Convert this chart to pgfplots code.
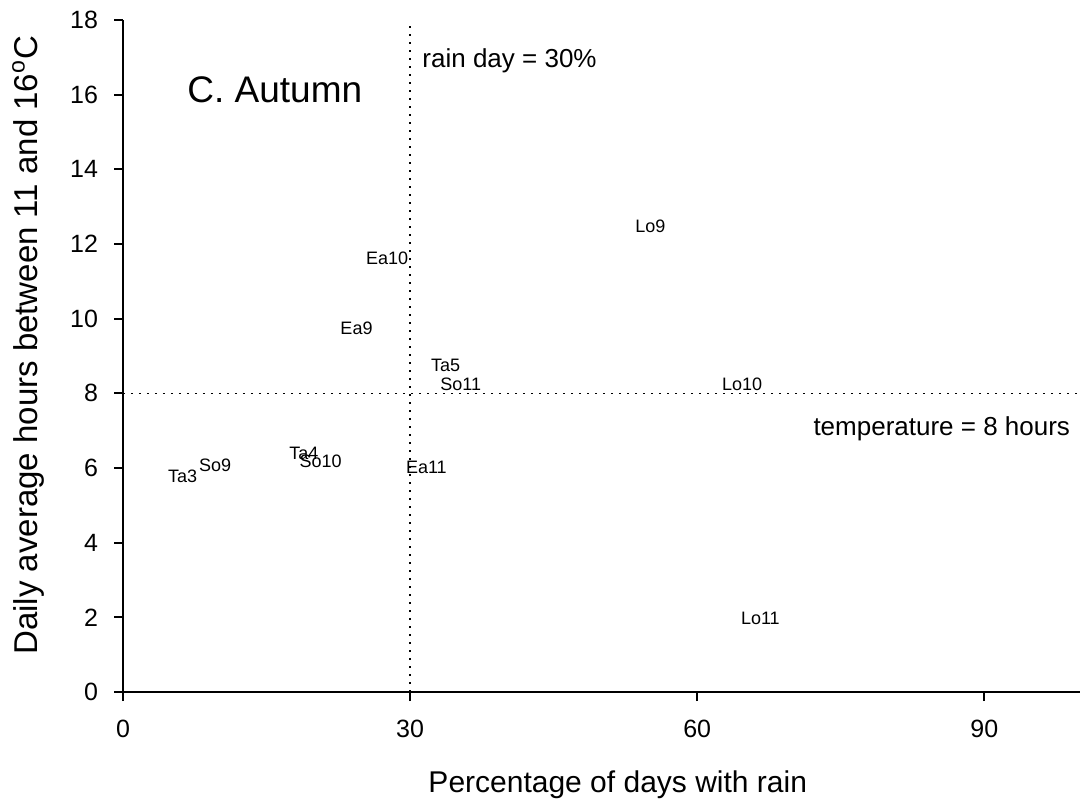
\documentclass[border=0pt]{standalone}
\usepackage{fontspec}
\setmainfont{Liberation Sans}
\usepackage{pgfplots}
\usepackage{pgfplotstable}
\pgfplotsset{compat=1.18}

% Site-month labels: rain-day percentage vs. daily hours in the 11--16 C band
\pgfplotstableread{
x     y      lab
6.22  5.79   Ta3
9.62  6.08   So9
18.9  6.38   Ta4
20.65 6.19   So10
31.7  6.01   Ea11
27.6  11.61  Ea10
24.4  9.74   Ea9
33.7  8.76   Ta5
35.3  8.25   So11
55.1  12.48  Lo9
64.7  8.23   Lo10
66.6  1.98   Lo11
}\autumndata

\begin{document}
\begin{tikzpicture}
\begin{axis}[
  scale only axis,
  width=478.5pt, height=336pt,
  xmin=0, xmax=100, ymin=0, ymax=18,
  axis lines=left,
  axis line style={-, line width=1pt},
  xtick={0,30,60,90},
  ytick={0,2,...,18},
  minor tick num=0,
  tick align=outside,
  major tick length=4.5pt,
  tick style={line width=1pt, black},
  every tick label/.append style={font=\fontsize{12.5}{15}\selectfont},
  xticklabel style={yshift=-6pt},
  yticklabel style={xshift=-4.5pt},
  /pgf/number format/assume math mode=true,
  xlabel={Percentage of days with rain},
  ylabel={Daily average hours between 11 and 16\textsuperscript{o}C},
  label style={font=\fontsize{15}{18}\selectfont},
  xlabel style={at={([yshift=-46.5pt]axis description cs:0.517,0)}, anchor=center},
  ylabel style={at={([xshift=-47.5pt]axis description cs:0,0.516)}, anchor=center,
                font=\fontsize{16.5}{19}\selectfont},
  clip=false,
]
  % threshold lines
  \addplot[black, line width=0.8pt, dash pattern=on 0.8pt off 3.2pt] coordinates {(30,0) (30,18)};
  \addplot[black, line width=0.8pt, dash pattern=on 0.8pt off 3.2pt] coordinates {(0,8) (100,8)};

  % labelled points
  \addplot[draw=none, mark=none,
    nodes near coords, nodes near coords align=center,
    point meta=explicit symbolic,
    every node near coord/.append style={font=\fontsize{9}{10}\selectfont, inner sep=0pt, anchor=center}]
    table[x=x, y=y, meta=lab] {\autumndata};

  \node[anchor=base west, inner sep=0pt, font=\fontsize{13}{15}\selectfont]
    at (axis cs:31.25,16.74) {rain day = 30\%};
  \node[anchor=base east, inner sep=0pt, font=\fontsize{13}{15}\selectfont]
    at (axis cs:99,6.88) {temperature = 8 hours};
  \node[anchor=base west, inner sep=0pt, font=\fontsize{18.5}{22}\selectfont]
    at (axis cs:6.69,15.80) {C. Autumn};

  \coordinate (bbsw) at (rel axis cs:0,0);
  \coordinate (bbne) at (rel axis cs:1,1);
\end{axis}
\pgfresetboundingbox
\path[use as bounding box] ([shift={(-61.5pt,-58.5pt)}]bbsw) rectangle ([shift={(0pt,10pt)}]bbne);
\end{tikzpicture}
\end{document}
